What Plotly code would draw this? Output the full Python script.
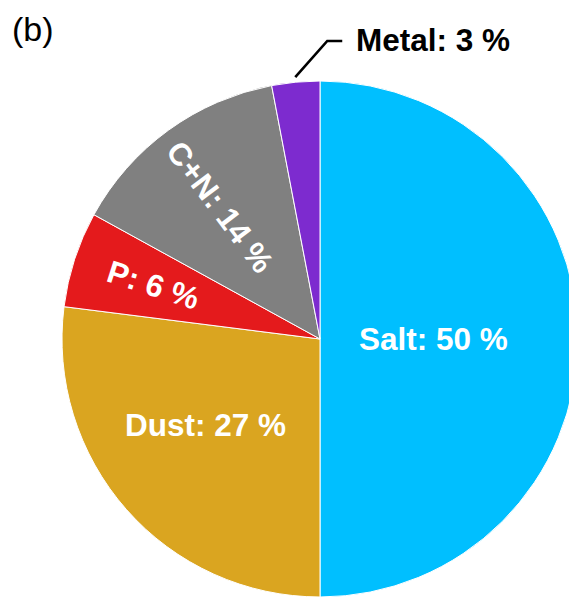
import math
import plotly.graph_objects as go

labels = ["Salt", "Dust", "P", "C+N", "Metal"]
values = [50, 27, 6, 14, 3]
colors = ["#00BFFF", "#DAA520", "#E41A1C", "#808080", "#7D2BCF"]
panel_tag = "(b)"

# label styling: placement kind, radial fraction of the label centre, small angular nudge (deg)
label_kind = ["horizontal", "horizontal", "radial", "radial", "outside"]
label_frac = [0.438, 0.555, 0.678, 0.642, 1.02]
label_nudge = [0.0, 4.5, 0.0, -0.9, 0.0]

# figure geometry: pie is slightly wider than the window and cut at the right edge
W, H = 579, 598
cx, cy, r = 320.0, 339.0, 258.0
dom_x = [(cx - r) / W, (cx + r) / W]
dom_y = [1 - (cy + r) / H, 1 - (cy - r) / H]

font_family = "Liberation Sans, Arial, sans-serif"
texts = [f"{l}: {v} %" for l, v in zip(labels, values)]

fig = go.Figure()
fig.add_trace(go.Pie(
    labels=labels, values=values, sort=False, direction="clockwise", rotation=0,
    marker=dict(colors=colors, line=dict(color="white", width=1)),
    textinfo="none", domain=dict(x=dom_x, y=dom_y),
    hoverinfo="skip", showlegend=False,
))

def px(x, y):
    return x / W, 1 - y / H

total = sum(values)
cum = 0
for l, v, t, kind, frac, nudge in zip(labels, values, texts, label_kind, label_frac, label_nudge):
    mid_deg = (cum + v / 2) / total * 360 + nudge
    cum += v
    a = math.radians(mid_deg)
    dx, dy = math.sin(a), -math.cos(a)
    if kind == "outside":
        sx, sy = cx + (r + 5) * dx, cy + (r + 5) * dy
        kx, ky = sx + 32, 41
        ex = kx + 15
        x0, y0 = px(sx, sy)
        x1, y1 = px(kx, ky)
        x2, y2 = px(ex, ky)
        fig.add_shape(type="path", xref="paper", yref="paper",
                      path=f"M {x0},{y0} L {x1},{y1} L {x2},{y2}",
                      line=dict(color="black", width=2.6))
        tx, ty = px(ex + 12, ky - 1)
        fig.add_annotation(x=tx, y=ty, xref="paper", yref="paper", text=t,
                           showarrow=False, xanchor="left", yanchor="middle",
                           font=dict(family=font_family, size=31.5, color="black", weight="bold"))
        continue
    tx, ty = px(cx + frac * r * dx, cy + frac * r * dy)
    angle = 0
    if kind == "radial":
        angle = mid_deg - 270 if mid_deg > 180 else mid_deg - 90
    fig.add_annotation(x=tx, y=ty, xref="paper", yref="paper", text=t,
                       showarrow=False, xanchor="center", yanchor="middle", textangle=angle,
                       font=dict(family=font_family, size=31.5, color="white", weight="bold"))

bx, by = px(10, 28.5)
fig.add_annotation(x=bx, y=by, xref="paper", yref="paper", text=panel_tag,
                   showarrow=False, xanchor="left", yanchor="middle",
                   font=dict(family=font_family, size=34, color="black"))

fig.update_layout(width=W, height=H, margin=dict(l=0, r=0, t=0, b=0),
                  paper_bgcolor="white", plot_bgcolor="white")
fig.write_html("out.html", config={"displayModeBar": False},
               post_script="document.body.style.margin='0';"
                           "document.body.style.overflow='hidden';")
